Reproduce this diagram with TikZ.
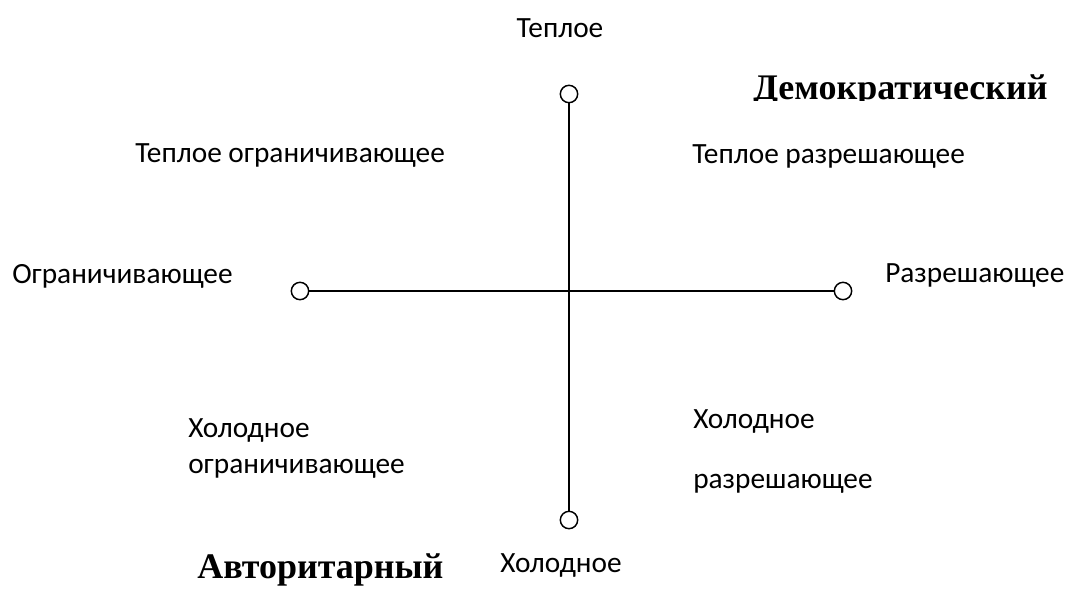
\documentclass[tikz,border=0pt]{standalone}
\usepackage{fontspec}
\setmainfont{Carlito}
\newfontfamily\titlefont{Liberation Serif}
\usetikzlibrary{positioning}

\begin{document}
\begin{tikzpicture}[x=0.75pt, y=-0.75pt,
  pole/.style={draw, circle, line width=1.1pt, fill=white, inner sep=0pt, minimum size=13pt},
  lbl/.style={font=\fontsize{22}{26}\selectfont, inner sep=0pt, anchor=base west},
  ttl/.style={font=\titlefont\bfseries\fontsize{27}{32}\selectfont, inner sep=0pt, anchor=base west},
  axis/.style={line width=1.1pt}
]
\useasboundingbox (0,0) rectangle (1066,590);

% poles
\node[pole] (warm) at (569,94) {};
\node[pole] (cold) at (569,520) {};
\node[pole] (restr) at (300,291) {};
\node[pole] (perm) at (843,291) {};

\draw[axis] (warm) -- (cold);
\draw[axis] (restr) -- (perm);

% axis labels
\node[lbl, anchor=base] (warmlbl) at (560,37) {Теплое};
\node[lbl, anchor=base] (coldlbl) at (561,572) {Холодное};
\node[lbl] (restrlbl) at (12,283) {Ограничивающее};
\node[lbl] (permlbl) at (885,282) {Разрешающее};

% quadrants
\node[lbl] (wr) at (135,162) {Теплое ограничивающее};
\node[lbl] (wp) at (692,163) {Теплое разрешающее};
\node[lbl] (cr1) at (188,437) {Холодное};
\node[lbl] (cr2) at (188,473) {ограничивающее};
\node[lbl] (cp1) at (693,428) {Холодное};
\node[lbl] (cp2) at (693,488) {разрешающее};

% styles
\begin{scope}
  \clip (700,60) rectangle (1066,100);
  \node[ttl] (demo) at (753,99) {Демократический};
\end{scope}
\node[ttl] (auth) at (197,578) {Авторитарный};
\end{tikzpicture}
\end{document}
